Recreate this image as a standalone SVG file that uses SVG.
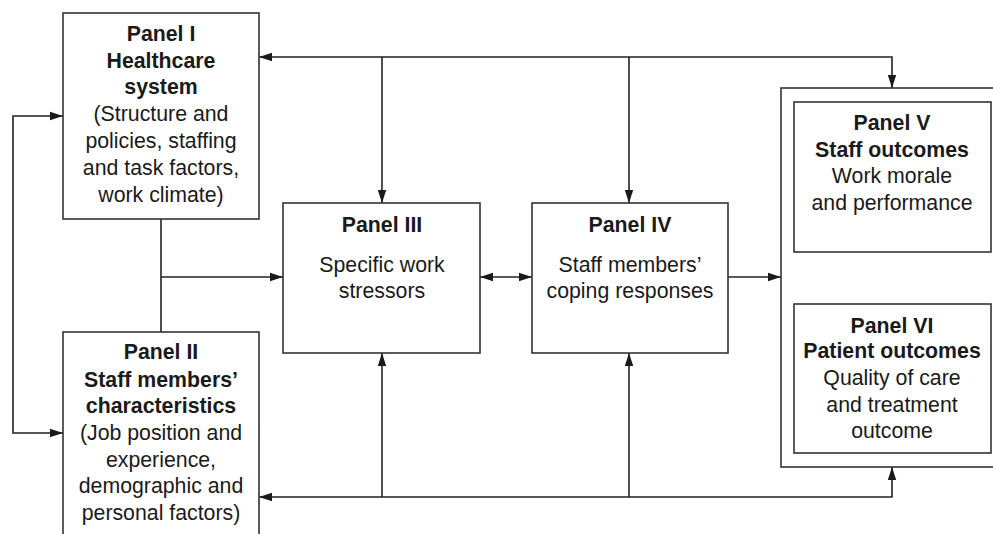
<svg xmlns="http://www.w3.org/2000/svg" width="993" height="534" viewBox="0 0 993 534">
<defs>
<marker id="ah" markerUnits="userSpaceOnUse" markerWidth="14" markerHeight="10" refX="13" refY="5" orient="auto-start-reverse">
<path d="M0,0.8 L13,5 L0,9.2 Z" fill="#1a1a1a"/>
</marker>
<style>
.box{fill:#fff;stroke:#333;stroke-width:1.6}
.c{fill:none;stroke:#222;stroke-width:1.6}
text{font-family:"Liberation Sans",Arial,sans-serif;font-size:21.3px;fill:#1a1a1a;text-anchor:middle}
.b{font-weight:bold}
</style>
</defs>
<rect width="993" height="534" fill="#fff"/>
<g id="connectors">
<path class="c" d="M63,116 H13 V433 H63" marker-start="url(#ah)" marker-end="url(#ah)"/>
<path class="c" d="M259,57 H892 V88" marker-start="url(#ah)" marker-end="url(#ah)"/>
<path class="c" d="M382,57 V203" marker-end="url(#ah)"/>
<path class="c" d="M629,57 V203" marker-end="url(#ah)"/>
<path class="c" d="M161,219 V332"/>
<path class="c" d="M161,277 H283" marker-end="url(#ah)"/>
<path class="c" d="M480,277 H532" marker-start="url(#ah)" marker-end="url(#ah)"/>
<path class="c" d="M728,277 H781" marker-end="url(#ah)"/>
<path class="c" d="M892,252 V304" marker-start="url(#ah)" marker-end="url(#ah)"/>
<path class="c" d="M259,497 H892 V467" marker-start="url(#ah)" marker-end="url(#ah)"/>
<path class="c" d="M382,497 V353" marker-end="url(#ah)"/>
<path class="c" d="M629,497 V353" marker-end="url(#ah)"/>
</g>
<g id="panel1">
<rect class="box" x="63" y="13" width="196" height="206"/>
<text x="161" y="41" class="b">Panel I</text>
<text x="161" y="68" class="b">Healthcare</text>
<text x="161" y="94" class="b">system</text>
<text x="161" y="121">(Structure and</text>
<text x="161" y="148">policies, staffing</text>
<text x="161" y="175">and task factors,</text>
<text x="161" y="202">work climate)</text>
</g>
<g id="panel2">
<rect class="box" x="63" y="332" width="196" height="220"/>
<text x="161" y="359" class="b">Panel II</text>
<text x="161" y="387" class="b">Staff members’</text>
<text x="161" y="413" class="b">characteristics</text>
<text x="161" y="440">(Job position and</text>
<text x="161" y="467">experience,</text>
<text x="161" y="493">demographic and</text>
<text x="161" y="520">personal factors)</text>
</g>
<g id="panel3">
<rect class="box" x="283" y="203" width="197" height="150"/>
<text x="382" y="232" class="b">Panel III</text>
<text x="382" y="272">Specific work</text>
<text x="382" y="298">stressors</text>
</g>
<g id="panel4">
<rect class="box" x="532" y="203" width="196" height="150"/>
<text x="630" y="232" class="b">Panel IV</text>
<text x="630" y="272">Staff members’</text>
<text x="630" y="298">coping responses</text>
</g>
<g id="outcomes">
<rect class="box" x="781" y="88" width="230" height="379"/>
</g>
<g id="panel5">
<rect class="box" x="794" y="102" width="197" height="150"/>
<text x="892" y="130" class="b">Panel V</text>
<text x="892" y="157" class="b">Staff outcomes</text>
<text x="892" y="183">Work morale</text>
<text x="892" y="210">and performance</text>
</g>
<g id="panel6">
<rect class="box" x="794" y="304" width="197" height="149"/>
<text x="892" y="333" class="b">Panel VI</text>
<text x="892" y="358" class="b">Patient outcomes</text>
<text x="892" y="385">Quality of care</text>
<text x="892" y="412">and treatment</text>
<text x="892" y="438">outcome</text>
</g>
</svg>
